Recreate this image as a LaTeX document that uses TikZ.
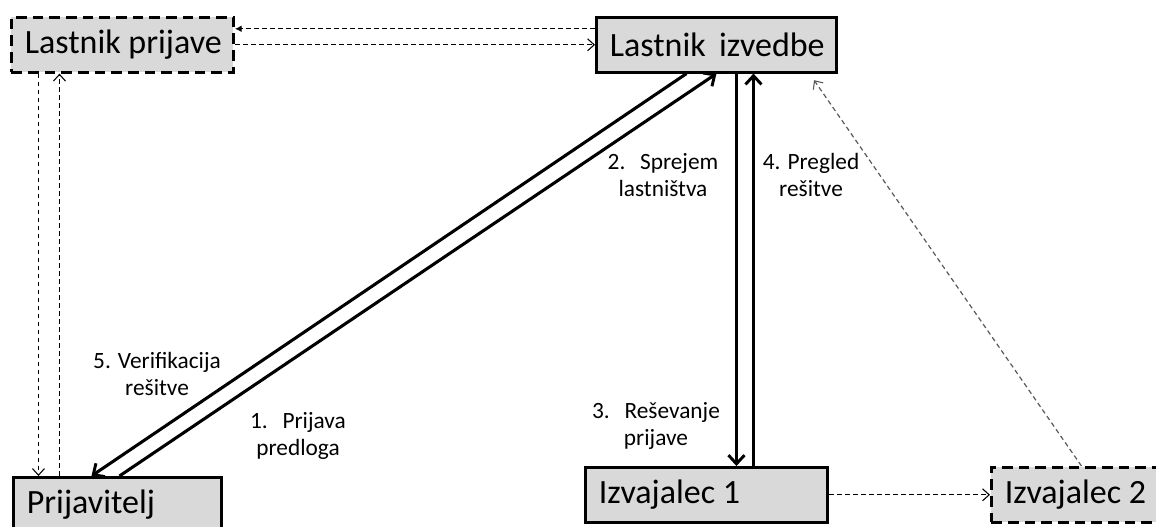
\documentclass[tikz,border=0pt]{standalone}
\usepackage{fontspec}
\setmainfont{Carlito}
\usetikzlibrary{calc,arrows.meta}

\definecolor{boxgray}{HTML}{D9D9D9}

\tikzset{
  actor/.style={draw, line width=2.2pt, fill=boxgray, anchor=north west,
    minimum height=41pt, inner xsep=10pt, align=flush left,
    font=\fontsize{25.5}{29}\selectfont},
  optactor/.style={actor, dash pattern=on 8pt off 4.5pt},
  steplabel/.style={align=center, font=\fontsize{17.5}{20.5}\selectfont},
  flowedge/.style={line width=2.3pt,
    -{Straight Barb[length=6.5pt,width=12pt,line width=2.2pt]}},
  infoedge/.style={line width=0.9pt, dash pattern=on 3.5pt off 2.5pt,
    -{Straight Barb[length=5pt,width=9pt,line width=0.8pt]}}
}

\begin{document}
\begin{tikzpicture}[x=0.75pt,y=-0.75pt]
  \clip (0,0) rectangle (1156,527);

  % actors
  \node[optactor, text width=146.5pt] (lp) at (10,16) {\mbox{Lastnik prijave}};
  \node[actor, text width=160pt] (li) at (595,16) {\mbox{Lastnik\hspace{10pt}izvedbe}};
  \node[actor, text width=136pt] (pr) at (12,476) {Prijavitelj};
  \node[actor, text width=161.5pt] (iz1) at (584,466) {\mbox{Izvajalec 1}};
  \node[optactor, text width=130pt] (iz2) at (990,466) {\mbox{Izvajalec 2}};

  % helper points on the box edges
  \coordinate (t1) at ($(li.west)+(0,-16)$);
  \coordinate (v1) at ($(lp.south)+(-84,0)$);
  \coordinate (v2) at ($(lp.south)+(-63,0)$);
  \coordinate (d1) at ($(li.south)+(20,0)$);
  \coordinate (d2) at ($(li.south)+(37,0)$);

  % main flow
  \draw[flowedge] ($(pr.north)+(2,0)$) -- (li.south);
  \draw[flowedge] ($(li.south)+(-30,0)$) -- ($(pr.north)+(-26,0)$);
  \draw[flowedge] (d1) -- (d1 |- iz1.north);
  \draw[flowedge] (d2 |- iz1.north) -- (d2);

  % information edges
  \draw[infoedge, -{Latex[length=5pt,width=5pt]}] (t1) -- (t1 -| lp.east);
  \draw[infoedge] (li.west -| lp.east) -- (li.west);
  \draw[infoedge] (v1) -- (v1 |- pr.north);
  \draw[infoedge] (v2 |- pr.north) -- (v2);
  \draw[infoedge] (iz1.east) -- (iz2.west);
  \draw[infoedge, black!65, shorten >=6pt] ($(iz2.north)+(-10,0)$) -- ($(li.south)+(93,0)$);

  % step labels
  \node[steplabel] (s1) at (298,436) {1.\hspace{11pt}Prijava\\predloga};
  \node[steplabel] (s2) at (663,175) {2.\hspace{11pt}Sprejem\\lastništva};
  \node[steplabel] (s3) at (656,426) {3.\hspace{11pt}Reševanje\\prijave};
  \node[steplabel] (s4) at (811,175) {4. Pregled\\rešitve};
  \node[steplabel] (s5) at (157,374) {5. Verifikacija\\rešitve};
\end{tikzpicture}
\end{document}
